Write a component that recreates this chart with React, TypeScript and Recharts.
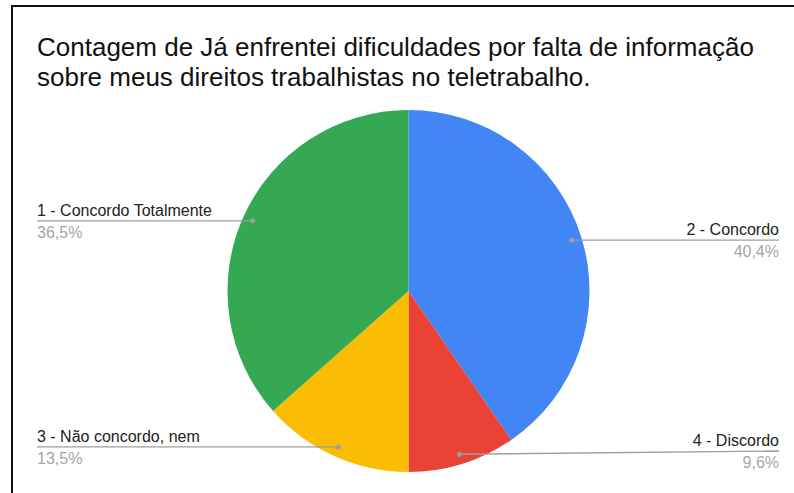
import { PieChart, Pie, Cell } from 'recharts';

const categories = ['2 - Concordo', '4 - Discordo', '3 - Não concordo, nem', '1 - Concordo Totalmente'];
const counts = [21, 5, 7, 19];
const colors = ['#4285f4', '#ea4335', '#fbbc04', '#34a853'];

const titleLines = [
  'Contagem de Já enfrentei dificuldades por falta de informação',
  'sobre meus direitos trabalhistas no teletrabalho.',
];

const total = counts.reduce((a, b) => a + b, 0);
const data = categories.map((name, i) => ({ name, value: counts[i] }));

const FONT = '"Liberation Sans", Arial, sans-serif';
const RAD = Math.PI / 180;
const LEFT_X = 37;
const RIGHT_X = 779;

const renderLabel = (props: any) => {
  const { cx, cy, midAngle, outerRadius, value, name } = props;
  const r = outerRadius - 10;
  const dx = cx + r * Math.cos(-midAngle * RAD);
  const dy = cy + r * Math.sin(-midAngle * RAD);
  const right = dx > cx;
  const ly = Math.min(dy, cy + 160);
  const tx = right ? RIGHT_X : LEFT_X;
  const pct = ((value / total) * 100).toFixed(1).replace('.', ',') + '%';
  return (
    <g>
      <line x1={dx} y1={dy} x2={tx} y2={ly} stroke="#9e9e9e" strokeWidth={1.3} />
      <circle cx={dx} cy={dy} r={2.5} fill="#9e9e9e" />
      <text x={tx} y={ly - 5} textAnchor={right ? 'end' : 'start'} fontSize={16} fill="#222" fontFamily={FONT}>
        {name}
      </text>
      <text x={tx} y={ly + 17} textAnchor={right ? 'end' : 'start'} fontSize={16} fill="#a6a6a6" fontFamily={FONT}>
        {pct}
      </text>
    </g>
  );
};

export default function App() {
  return (
    <div style={{ position: 'absolute', left: 0, top: 0, width: 794, height: 493, background: '#fff', overflow: 'hidden' }}>
      <div style={{ position: 'absolute', left: 11, top: 5, width: 800, height: 500, borderTop: '2px solid #111', borderLeft: '2px solid #111' }} />
      <div style={{ position: 'absolute', left: 37, top: 32, fontFamily: FONT, fontSize: 26, lineHeight: '30px', color: '#111', whiteSpace: 'nowrap' }}>
        {titleLines.map((t) => (
          <div key={t}>{t}</div>
        ))}
      </div>
      <div style={{ position: 'absolute', left: 0, top: 0 }}>
        <PieChart width={794} height={493} margin={{ top: 0, right: 0, bottom: 0, left: 0 }}>
          <Pie
            data={data}
            dataKey="value"
            nameKey="name"
            cx={408.5}
            cy={291}
            outerRadius={181}
            startAngle={90}
            endAngle={-270}
            stroke="none"
            label={renderLabel}
            labelLine={false}
            isAnimationActive={false}
          >
            {data.map((d, i) => (
              <Cell key={d.name} fill={colors[i]} />
            ))}
          </Pie>
        </PieChart>
      </div>
    </div>
  );
}
